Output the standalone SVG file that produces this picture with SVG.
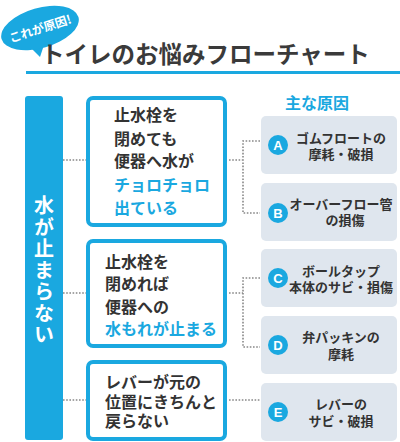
<svg xmlns="http://www.w3.org/2000/svg" width="400" height="442" viewBox="0 0 400 442">
<style>
text{font-family:"Noto Sans CJK JP","Noto Sans",sans-serif;font-weight:bold}
.q{font-size:16px;fill:#333}
.b{fill:#1aa8e0}
.c{font-size:13px;fill:#333;text-anchor:middle}
.box{fill:#fff;stroke:#1aa8e0;stroke-width:4}
.cause{fill:#dfe6ee}
.dot{fill:none;stroke:#888;stroke-width:1.6;stroke-dasharray:1.6 1.6}
.circ{fill:#1aa8e0}
.lt{font-family:"Liberation Sans",sans-serif;font-size:13px;fill:#fff;text-anchor:middle;font-weight:bold}
.v{font-size:20px;fill:#fff;text-anchor:middle;writing-mode:vertical-rl;letter-spacing:1.5px}
</style>
<rect width="400" height="442" fill="#fff"/>
<g id="title">
<path d="M30 47 L40 57 L44 45 Z" fill="#1aa8e0"/>
<ellipse cx="40" cy="28" rx="40" ry="20" transform="rotate(-16 40 28)" fill="#1aa8e0"/>
<text x="40" y="33" transform="rotate(-18 40 28)" font-size="12" fill="#fff" text-anchor="middle">これが原因!</text>
<text x="41" y="63" font-size="23.5" fill="#3a3a3a">トイレのお悩みフローチャート</text>
<rect x="26" y="71" width="374" height="3" fill="#1aa8e0"/>
</g>
<g id="connectors">
<path class="dot" d="M63 160 H86"/>
<path class="dot" d="M63 293 H86"/>
<path class="dot" d="M63 400 H86"/>
<path class="dot" d="M229 160 H243 M260 141 H243 V213 H260"/>
<path class="dot" d="M229 293 H243 M260 278 H243 V347 H260"/>
<path class="dot" d="M229 400 H260"/>
</g>
<g id="problem">
<rect x="25" y="96" width="38" height="344" rx="3" fill="#1aa8e0"/>
<text class="v" x="44" y="271">水が止まらない</text>
</g>
<g id="q1">
<rect class="box" x="88" y="98" width="137" height="127" rx="5"/>
<text class="q"><tspan x="114" y="121">止水栓を</tspan><tspan x="114" y="145">閉めても</tspan><tspan x="114" y="167">便器へ水が</tspan><tspan class="b" x="114" y="191">チョロチョロ</tspan><tspan class="b" x="114" y="214">出ている</tspan></text>
</g>
<g id="q2">
<rect class="box" x="88" y="241" width="137" height="105" rx="5"/>
<text class="q"><tspan x="105" y="268">止水栓を</tspan><tspan x="105" y="290">閉めれば</tspan><tspan x="105" y="313">便器への</tspan><tspan class="b" x="105" y="335">水もれが止まる</tspan></text>
</g>
<g id="q3">
<rect class="box" x="88" y="362" width="137" height="77" rx="5"/>
<text class="q"><tspan x="105" y="388">レバーが元の</tspan><tspan x="105" y="408">位置にきちんと</tspan><tspan x="105" y="427">戻らない</tspan></text>
</g>
<text x="317" y="109" font-size="16" fill="#1aa8e0" text-anchor="middle">主な原因</text>
<g id="causeA">
<rect class="cause" x="261" y="116" width="136" height="58" rx="5"/>
<circle class="circ" cx="278" cy="145" r="10"/>
<text class="lt" x="278" y="150">A</text>
<text class="c"><tspan x="341" y="143">ゴムフロートの</tspan><tspan x="341" y="159">摩耗・破損</tspan></text>
</g>
<g id="causeB">
<rect class="cause" x="261" y="183" width="136" height="58" rx="5"/>
<circle class="circ" cx="278" cy="213" r="10"/>
<text class="lt" x="278" y="218">B</text>
<text class="c"><tspan x="341" y="209">オーバーフロー管</tspan><tspan x="345" y="225">の損傷</tspan></text>
</g>
<g id="causeC">
<rect class="cause" x="261" y="249" width="136" height="58" rx="5"/>
<circle class="circ" cx="278" cy="278" r="10"/>
<text class="lt" x="278" y="283">C</text>
<text class="c"><tspan x="341" y="276">ボールタップ</tspan><tspan x="341" y="292">本体のサビ・損傷</tspan></text>
</g>
<g id="causeD">
<rect class="cause" x="261" y="316" width="136" height="58" rx="5"/>
<circle class="circ" cx="278" cy="345" r="10"/>
<text class="lt" x="278" y="350">D</text>
<text class="c"><tspan x="341" y="342">弁パッキンの</tspan><tspan x="341" y="359">摩耗</tspan></text>
</g>
<g id="causeE">
<rect class="cause" x="261" y="383" width="136" height="58" rx="5"/>
<circle class="circ" cx="278" cy="412" r="10"/>
<text class="lt" x="278" y="417">E</text>
<text class="c"><tspan x="341" y="409">レバーの</tspan><tspan x="341" y="426">サビ・破損</tspan></text>
</g>
</svg>
